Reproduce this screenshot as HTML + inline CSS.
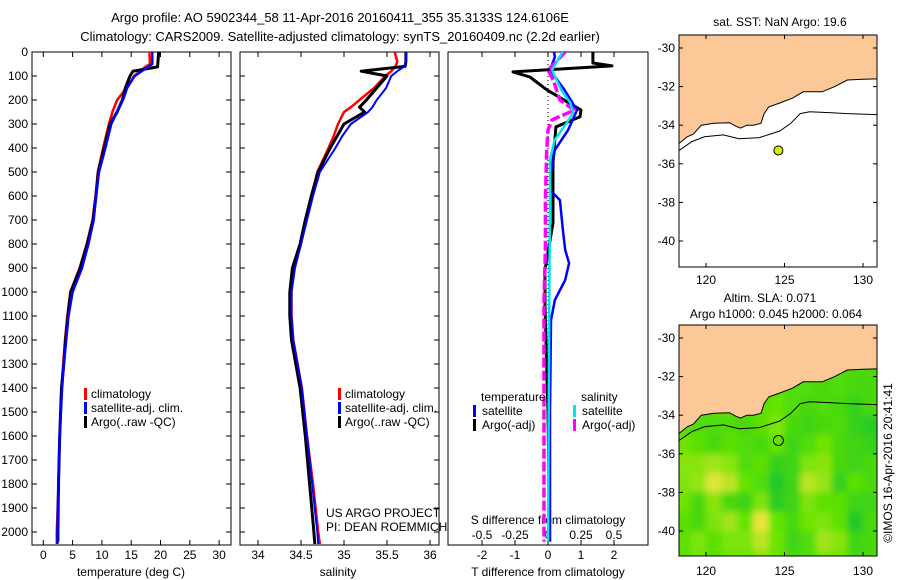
<!DOCTYPE html>
<html><head><meta charset="utf-8"><style>
html,body{margin:0;padding:0;background:#fff;}
svg{display:block;font-family:"Liberation Sans",sans-serif;}
text{font-size:12px;fill:#000;}
</style></head><body>
<svg id="fig" width="900" height="580" viewBox="0 0 900 580" xmlns="http://www.w3.org/2000/svg">
<defs>
<clipPath id="c1"><rect x="32" y="52" width="199" height="493"/></clipPath>
<clipPath id="c2"><rect x="240" y="52" width="199" height="493"/></clipPath>
<clipPath id="c3"><rect x="448" y="52" width="200" height="493"/></clipPath>
<clipPath id="cm1"><rect x="679" y="35" width="198" height="232"/></clipPath>
<clipPath id="cm2"><rect x="679" y="325" width="198" height="231"/></clipPath>
<filter id="blur" x="-10%" y="-10%" width="120%" height="120%"><feGaussianBlur stdDeviation="3.5"/></filter>
</defs>
<text x="340" y="22" text-anchor="middle" style="font-size:13px">Argo profile: AO 5902344_58 11-Apr-2016 20160411_355 35.3133S 124.6106E</text>
<text x="340" y="41" text-anchor="middle" style="font-size:13px">Climatology: CARS2009. Satellite-adjusted climatology: synTS_20160409.nc (2.2d earlier)</text>
</svg>
<script>
// ---------- data ----------
const depthT = [0,60,62,80,100,150,200,250,300,400,500,600,700,800,900,1000,1100,1200,1300,1400,1600,1800,2000,2040];
const argoT  = [19.7,19.5,19.5,15.3,14.8,14.0,13.5,12.6,11.4,10.4,9.4,9.0,8.5,7.5,6.3,4.7,4.2,3.8,3.5,3.1,2.8,2.6,2.5,2.5];
const depthC = [0,50,60,80,100,150,200,250,300,400,500,600,700,800,900,1000,1100,1200,1300,1400,1600,1800,2000,2050];
const climT  = [18.1,18.2,17.5,16.5,15.5,14.2,12.6,11.8,11.2,10.2,9.3,8.9,8.4,7.4,6.2,4.6,4.1,3.7,3.4,3.1,2.8,2.6,2.3,2.3];
const satT   = [18.6,18.6,18.0,16.8,15.6,14.3,13.6,12.6,11.6,10.6,9.5,9.0,8.6,7.7,6.6,5.0,4.3,3.9,3.5,3.2,2.8,2.6,2.4,2.4];
const depthS = [0,40,60,80,100,150,200,230,250,300,350,400,500,600,700,800,900,1000,1100,1200,1300,1400,1600,1800,2000,2050];
const argoS  = [35.72,35.72,35.71,35.2,35.5,35.38,35.26,35.18,35.24,35.0,34.92,34.84,34.70,34.62,34.55,34.49,34.40,34.37,34.37,34.39,34.44,34.49,34.55,34.6,34.65,34.66];
const climS  = [35.59,35.62,35.6,35.55,35.48,35.35,35.18,35.08,35.0,34.93,34.88,34.82,34.69,34.62,34.56,34.5,34.42,34.39,34.39,34.41,34.46,34.51,34.57,34.64,34.7,34.72];
const satS   = [35.72,35.72,35.7,35.62,35.55,35.49,35.38,35.33,35.28,35.08,34.98,34.9,34.72,34.64,34.57,34.5,34.43,34.39,34.39,34.41,34.46,34.51,34.57,34.63,34.69,34.7];
const dArgoTd = [0,46,58,83,104,158,242,270,312,462,712,908,1062,1500,2040];
const argoTd  = [1.36,1.36,1.94,-1.06,-0.55,-0.03,1.0,0.97,0.24,0.15,0.15,-0.09,-0.09,0,0.05];
const dSatTd  = [0,20,75,158,242,325,408,492,575,617,742,825,880,950,1033,1117,1500,2040];
const satTd   = [0.18,0.21,0.06,0.5,0.88,0.61,0.21,0.09,0.06,0.36,0.45,0.52,0.64,0.52,0.21,0.09,0.06,0.06];
const dArgoSd = [0,75,117,200,242,283,325,408,617,825,1033,2040];
const argoSd  = [0.13,0,0.04,0.09,0.2,0.03,0,-0.01,-0.02,-0.02,-0.03,-0.03];
const dSatSd  = [0,75,158,212,254,304,367,450,617,1033,2040];
const satSd   = [0.11,0.03,0.1,0.17,0.19,0.13,0.05,0.015,0.015,0.01,0.0];
const depthTicks = [0,100,200,300,400,500,600,700,800,900,1000,1100,1200,1300,1400,1500,1600,1700,1800,1900,2000];
const tempTicks = [0,5,10,15,20,25,30];
const salTicks = [34,34.5,35,35.5,36];
const tdTicks = [-2,-1,0,1,2];
const sdTicks = [-0.5,-0.25,0,0.25,0.5];
const sdTickLabels = ['-0.5','-0.25','0','0.25','0.5'];
const coastLon = [118.3,118.8,119.2,119.7,120.5,121.5,121.9,122.2,122.6,123.0,123.5,123.7,124.0,124.7,125.5,126.2,127.4,128.2,129.0,130.0,130.9];
const coastLat = [-34.94,-34.6,-34.46,-34.0,-33.9,-33.87,-34.05,-34.15,-34.0,-34.0,-33.9,-33.4,-33.05,-32.85,-32.6,-32.27,-32.27,-32.0,-31.66,-31.62,-31.6];
const isoLon = [118.3,119.1,119.9,121.1,122.1,123.4,124.7,125.4,126.0,126.6,128.0,129.0,130.9];
const isoLat = [-35.3,-34.85,-34.6,-34.5,-34.7,-34.64,-34.3,-33.9,-33.4,-33.3,-33.35,-33.4,-33.45];
const argoLon = [124.61];
const argoLat = [-35.31];
const latTicks = [-30,-32,-34,-36,-38,-40];
const lonTicks = [120,125,130];
const slaLat = [-29.5,-30.5,-31.5,-32.5,-33.5,-34.5,-35.5,-36.5,-37.5,-38.5,-39.5,-40.5,-41.5];
const slaLon = [117.5,118.5,119.5,120.5,121.5,122.5,123.5,124.5,125.5,126.5,127.5,128.5,129.5,130.5,131.5];
const slaGrid = [
 [.35,.35,.35,.35,.35,.35,.35,.35,.35,.35,.35,.35,.35,.35,.35],
 [.35,.35,.35,.35,.35,.35,.35,.35,.35,.35,.35,.35,.35,.35,.35],
 [.4,.4,.4,.4,.4,.4,.4,.4,.35,.35,.35,.35,.3,.3,.3],
 [.4,.4,.4,.4,.4,.4,.4,.4,.35,.35,.3,.35,.3,.3,.3],
 [.4,.4,.4,.4,.4,.4,.4,.45,.35,.3,.35,.3,.2,.3,.3],
 [.35,.35,.35,.35,.35,.3,.4,.55,.3,.25,.3,.35,.2,.15,.15],
 [.5,.5,.4,.3,.4,.35,.3,.45,.25,.35,.5,.3,.25,.2,.2],
 [.6,.6,.6,.7,.6,.35,.4,.2,.25,.55,.6,.3,.25,.3,.3],
 [.55,.55,.65,.95,.8,.45,.35,.1,.25,.8,.65,.2,.4,.3,.3],
 [.5,.5,.3,.6,.3,.25,.55,.15,.25,.55,.4,.4,.25,.25,.25],
 [.4,.4,.3,.55,.7,.45,1.0,.45,.3,.5,.55,.4,.1,.3,.3],
 [.4,.4,.55,.4,.55,.55,.8,.5,.25,.35,.7,.6,.25,.3,.3],
 [.4,.4,.5,.4,.5,.5,.6,.45,.3,.35,.55,.5,.3,.3,.3]
];

// ---------- helpers ----------
const NS = "http://www.w3.org/2000/svg";
const svg = document.getElementById('fig');
function mk(tag, attrs, parent){const e=document.createElementNS(NS,tag);for(const k in attrs)e.setAttribute(k,attrs[k]);(parent||svg).appendChild(e);return e;}
const yD = d => 52 + d*0.24;
const xT = v => 43.3 + v*5.86;
const xS = v => 258 + (v-34)*86;
const xTd = v => 548 + v*33;
const xSd = v => 548 + v*132;
const mLon = v => 706 + (v-120)*15.7;
const mLat1 = v => 48 + (-30 - v)*19.3;
const mLat2 = v => 338 + (-30 - v)*19.3;

function profile(ds, vs, xf, color, w, clip, name, dash){
  const pts = ds.map((d,i)=>xf(vs[i]).toFixed(1)+','+yD(d).toFixed(1)).join(' ');
  const e = mk('polyline',{points:pts,fill:'none',stroke:color,'stroke-width':w,'clip-path':'url(#'+clip+')','stroke-linejoin':'round'});
  if(dash) e.setAttribute('stroke-dasharray',dash);
  
  
}
function frame(x,y,w,h,name){
  const e = mk('rect',{x:x,y:y,width:w,height:h,fill:'none',stroke:'#000','stroke-width':1});
  
  
}
function label(x,y,txt,anchor,name,size){
  const e = mk('text',{x:x,y:y,'text-anchor':anchor||'start'});
  if(size) e.style.fontSize=size+'px';
  e.textContent = txt;
  
  
  return e;
}
function tick(x1,y1,x2,y2){
  const e = mk('line',{x1:x1,y1:y1,x2:x2,y2:y2,stroke:'#000','stroke-width':1});
  
  
}
function legendBar(x,y,color){
  const e = mk('rect',{x:x,y:y-10,width:3,height:12,fill:color});
  
  
}

// ---------- panel frames & axes ----------
const panels = [[32,'temperature-panel'],[240,'salinity-panel'],[448,'difference-panel']];
panels.forEach(p=>frame(p[0],52,p[0]===448?200:199,493,p[1]));
depthTicks.forEach(d=>{
  const y=yD(d);
  label(28,y+4,String(d),'end','depth-tick-label');
  tick(32,y,37,y); tick(231,y,226,y);
  tick(240,y,245,y); tick(439,y,434,y);
});
tempTicks.forEach(v=>{const x=xT(v);tick(x,52,x,57);tick(x,545,x,540);label(x,559,String(v),'middle','temperature-tick-label');});
salTicks.forEach(v=>{const x=xS(v);tick(x,52,x,57);tick(x,545,x,540);label(x,559,String(v),'middle','salinity-tick-label');});
tdTicks.forEach(v=>{const x=xTd(v);tick(x,52,x,57);tick(x,545,x,540);label(x,559,String(v),'middle','t-diff-tick-label');});
sdTicks.forEach((v,i)=>{const x=xSd(v);label(x,539,sdTickLabels[i],'middle','s-diff-tick-label');});
label(131,576,'temperature (deg C)','middle','x-axis-title-temperature');
label(338,576,'salinity','middle','x-axis-title-salinity');
label(548,576,'T difference from climatology','middle','x-axis-title-t-diff');
label(548,524,'S difference from climatology','middle','s-diff-axis-title');

const zl = mk('line',{x1:548,y1:52,x2:548,y2:545,stroke:'#000','stroke-width':1,'stroke-dasharray':'1,3'});



// ---------- profiles ----------
profile(depthC, climT, xT, '#ff0000', 2.5, 'c1', 'temp-climatology-line');
profile(depthT, argoT, xT, '#000000', 3, 'c1', 'temp-argo-line');
profile(depthC, satT, xT, '#0000ff', 2.5, 'c1', 'temp-satellite-line');
profile(depthS, climS, xS, '#ff0000', 2.5, 'c2', 'sal-climatology-line');
profile(depthS, argoS, xS, '#000000', 3, 'c2', 'sal-argo-line');
profile(depthS, satS, xS, '#0000ff', 2, 'c2', 'sal-satellite-line');
profile(dArgoTd, argoTd, xTd, '#000000', 3, 'c3', 'tdiff-argo-line');
profile(dSatTd, satTd, xTd, '#0000ff', 2.5, 'c3', 'tdiff-satellite-line');
profile(dArgoSd, argoSd, xSd, '#ff00ff', 3.5, 'c3', 'sdiff-argo-line', '10,3');
profile(dSatSd, satSd, xSd, '#00e5ee', 2.5, 'c3', 'sdiff-satellite-line');

// ---------- legends ----------
[[84,'climatology','#ff0000'],[84,'satellite-adj. clim.','#0000ff'],[84,'Argo(..raw -QC)','#000000']].forEach((l,i)=>{
  legendBar(l[0],398+i*14,l[2]); label(l[0]+7,398+i*14,l[1],'start','temp-legend-entry');
});
[[338,'climatology','#ff0000'],[338,'satellite-adj. clim.','#0000ff'],[338,'Argo(..raw -QC)','#000000']].forEach((l,i)=>{
  legendBar(l[0],398+i*14,l[2]); label(l[0]+7,398+i*14,l[1],'start','sal-legend-entry');
});
label(326,517,'US ARGO PROJECT','start','project-credit');
label(326,531,'PI: DEAN ROEMMICH','start','pi-credit');
label(481,401,'temperature','start','diff-legend-heading-temperature');
label(581,401,'salinity','start','diff-legend-heading-salinity');
legendBar(473,415,'#0000ff'); label(482,415,'satellite','start','diff-legend-entry');
legendBar(473,429,'#000000'); label(482,429,'Argo(-adj)','start','diff-legend-entry');
legendBar(573,415,'#00e5ee'); label(582,415,'satellite','start','diff-legend-entry');
legendBar(573,429,'#ff00ff'); label(582,429,'Argo(-adj)','start','diff-legend-entry');

// ---------- maps ----------
const LAND = '#fcc898';
function landPoly(latf){
  let pts = coastLon.map((v,i)=>mLon(v).toFixed(1)+','+latf(coastLat[i]).toFixed(1));
  pts.push(mLon(131.5)+','+latf(coastLat[coastLat.length-1]));
  pts.push(mLon(131.5)+','+latf(-28)); pts.push(mLon(117.5)+','+latf(-28));
  pts.push(mLon(117.5)+','+latf(coastLat[0]));
  return pts.join(' ');
}
function line(lons,lats,latf,clip,name){
  const e = mk('polyline',{points:lons.map((v,i)=>mLon(v).toFixed(1)+','+latf(lats[i]).toFixed(1)).join(' '),fill:'none',stroke:'#000','stroke-width':1,'clip-path':'url(#'+clip+')'});
  
  
}
function mapAxes(x0,y0,w,h,latf,labY,name){
  frame(x0,y0,w,h,name);
  latTicks.forEach(v=>{const y=latf(v);tick(x0,y,x0+4,y);tick(x0+w,y,x0+w-4,y);label(x0-4,y+4,String(v),'end','latitude-tick-label');});
  lonTicks.forEach(v=>{const x=mLon(v);tick(x,y0,x,y0+4);tick(x,y0+h,x,y0+h-4);label(x,labY,String(v),'middle','longitude-tick-label');});
}
const bg1 = mk('rect',{x:679,y:35,width:198,height:232,fill:'#fff'});


const land1 = mk('polygon',{points:landPoly(mLat1),fill:LAND,stroke:'#000','stroke-width':1,'clip-path':'url(#cm1)'});


line(isoLon,isoLat,mLat1,'cm1','sst-map-isobath');
argoLon.forEach((v,i)=>{
  const c = mk('circle',{cx:mLon(v),cy:mLat1(argoLat[i]),r:4.5,fill:'#d8f000',stroke:'#000','stroke-width':1});
  
  
});
mapAxes(679,35,198,232,mLat1,284,'sst-map-frame');
label(780,26,'sat. SST: NaN Argo: 19.6','middle','sst-map-title');

function slaColor(v){
  const a=[16,192,48], b=[100,228,0], c=[236,228,60];
  let p,q,t; if(v<0.45){p=a;q=b;t=v/0.45;} else {p=b;q=c;t=(v-0.45)/0.55;}
  t=Math.max(0,Math.min(1,t));
  return 'rgb('+p.map((x,i)=>Math.round(x+(q[i]-x)*t)).join(',')+')';
}
const gCells = mk('g',{'clip-path':'url(#cm2)'});


const gBlur = mk('g',{filter:'url(#blur)'},gCells);
slaLat.forEach((la,r)=>slaLon.forEach((lo,c)=>{
  const x=mLon(lo-0.5), y=mLat2(la+0.5);
  const e = mk('rect',{x:x.toFixed(1),y:y.toFixed(1),width:16.2,height:19.8,fill:slaColor(slaGrid[r][c])},gBlur);
  
  
}));
const land2 = mk('polygon',{points:landPoly(mLat2),fill:LAND,stroke:'#000','stroke-width':1,'clip-path':'url(#cm2)'});


line(isoLon,isoLat,mLat2,'cm2','sla-map-isobath');
argoLon.forEach((v,i)=>{
  const c = mk('circle',{cx:mLon(v),cy:mLat2(argoLat[i]),r:5,fill:'none',stroke:'#000','stroke-width':1});
  
  
});
mapAxes(679,325,198,231,mLat2,575,'sla-map-frame');
label(770,302,'Altim. SLA: 0.071','middle','sla-map-title');
label(776,318,'Argo h1000: 0.045 h2000: 0.064','middle','sla-map-subtitle');
const cr = label(0,0,'©IMOS 16-Apr-2016 20:41:41','middle','imos-credit');
cr.setAttribute('transform','translate(892,463) rotate(-90)');
</script>
</body></html>
